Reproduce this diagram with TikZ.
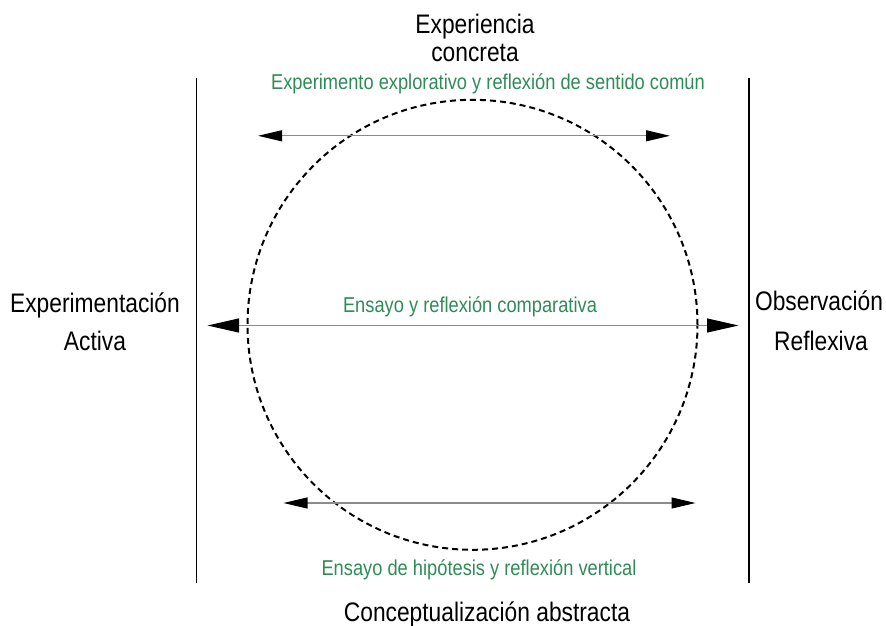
\documentclass[tikz,border=0pt]{standalone}
\usepackage{fontspec}
\setmainfont{Liberation Sans}[FakeStretch=0.85]
\usetikzlibrary{arrows.meta}
\definecolor{lblgreen}{RGB}{46,140,86}
\definecolor{axisgray}{RGB}{140,140,140}
\tikzset{
  blacklabel/.style={anchor=base, inner sep=0pt, text=black, font=\fontsize{26.8}{28}\selectfont},
  greenlabel/.style={anchor=base, inner sep=0pt, text=lblgreen, font=\fontsize{21.5}{23}\selectfont},
  sideline/.style={draw=black, line width=1.3pt},
  smallarrow/.style={draw=axisgray, line width=1.1pt,
    {Triangle[length=24pt,width=11pt,color=black]}-{Triangle[length=24pt,width=11pt,color=black]}},
  bigarrow/.style={draw=axisgray, line width=1.1pt,
    {Triangle[length=31.5pt,width=14pt,color=black]}-{Triangle[length=31.5pt,width=14pt,color=black]}},
  cyclecircle/.style={circle, draw=black, line width=2pt, dash pattern=on 6pt off 4pt,
    minimum size=450pt, inner sep=0pt, outer sep=0pt}
}
\begin{document}
\begin{tikzpicture}[x=1pt,y=-1pt]
\useasboundingbox (0,0) rectangle (886,626);
% dashed cycle
\node[cyclecircle] (cyc) at (472.5,324.8) {};
% vertical side lines
\coordinate (lt) at (196.5,78);
\coordinate (lb) at (196.5,583.3);
\coordinate (rt) at (749,78);
\coordinate (rb) at (749,583.3);
\draw[sideline] (lt) -- (lb);
\draw[sideline] (rt) -- (rb);
% arrows
\coordinate (ta) at (258,135.8);
\coordinate (tb) at (670,135.8);
\coordinate (ma) at (207.5,325.5);
\coordinate (mb) at (738.5,325.5);
\coordinate (ba) at (283.5,503);
\coordinate (bb) at (695.5,503);
\draw[smallarrow] (ta) -- (tb);
\draw[bigarrow] (ma) -- (mb);
\draw[smallarrow] (ba) -- (bb);
% black labels
\node[blacklabel] (exp1) at (475,34) {Experiencia};
\node[blacklabel] (exp2) at (475,61.7) {concreta};
\node[blacklabel] (act1) at (95,312.7) {Experimentación};
\node[blacklabel] (act2) at (95,350.7) {Activa};
\node[blacklabel] (obs1) at (819,310) {Observación};
\node[blacklabel] (obs2) at (821,350.7) {Reflexiva};
\node[blacklabel] (con) at (487,621.7) {Conceptualización abstracta};
% green labels
\node[greenlabel] (gtop) at (488,89) {Experimento explorativo y reflexión de sentido común};
\node[greenlabel] (gmid) at (470,312.7) {Ensayo y reflexión comparativa};
\node[greenlabel] (gbot) at (479,575.7) {Ensayo de hipótesis y reflexión vertical};
\end{tikzpicture}
\end{document}
